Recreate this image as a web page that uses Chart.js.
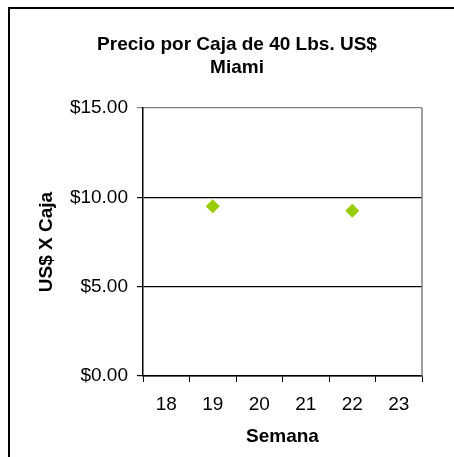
<!DOCTYPE html>
<html>
<head>
<meta charset="utf-8">
<script src="https://cdn.jsdelivr.net/npm/chart.js@4"></script>
<style>
  html, body { margin: 0; padding: 0; background: #fff; }
  #wrap { width: 454px; height: 457px; position: relative; }
</style>
</head>
<body>
<div id="wrap"><canvas id="myChart" width="454" height="457"></canvas></div>
<script>
"use strict";

// semanas y precio por caja (US$)
const semanas = ['18', '19', '20', '21', '22', '23'];
const precioMiami = [null, 9.5, null, null, 9.25, null];
const yTicks = [0, 5, 10, 15];
const tituloLineas = ['Precio por Caja de 40 Lbs. US$', 'Miami'];

const FONT = "'Liberation Sans', Arial, sans-serif";

// titulo y marco exterior
const marcoPlugin = {
	id: 'marco',
	afterDraw(chart) {
		const ctx = chart.ctx;
		const area = chart.chartArea;
		ctx.save();
		// borde derecho del area de trazado
		ctx.strokeStyle = '#808080';
		ctx.lineWidth = 1.5;
		ctx.beginPath();
		ctx.moveTo(area.right, area.top);
		ctx.lineTo(area.right, area.bottom);
		ctx.stroke();
		// marco del grafico (izq y arriba)
		ctx.strokeStyle = '#000';
		ctx.lineWidth = 2;
		ctx.beginPath();
		ctx.moveTo(9, 457);
		ctx.lineTo(9, 8);
		ctx.lineTo(454, 8);
		ctx.stroke();
		// titulo
		ctx.fillStyle = '#000';
		ctx.font = 'bold 19px ' + FONT;
		ctx.textAlign = 'center';
		ctx.textBaseline = 'middle';
		ctx.fillText(tituloLineas[0], 237, 45);
		ctx.fillText(tituloLineas[1], 237, 68);
		ctx.restore();
	}
};

const data = {
	labels: semanas,
	datasets: [{
		label: 'Miami',
		data: precioMiami,
		showLine: false,
		pointStyle: 'rectRot',
		pointRadius: 7,
		pointHoverRadius: 7,
		pointBackgroundColor: '#99CC00',
		pointBorderWidth: 0,
		borderColor: '#99CC00',
		backgroundColor: '#99CC00'
	}]
};

const config = {
	type: 'line',
	data: data,
	options: {
		responsive: false,
		animation: false,
		layout: { padding: { top: 108, right: 32, left: 35, bottom: 9 } },
		plugins: {
			legend: { display: false },
			title: { display: false },
			tooltip: { enabled: false }
		},
		scales: {
			x: {
				type: 'category',
				offset: true,
				afterFit: (scale) => { scale.height = 72; },
				grid: {
					offset: true,
					drawOnChartArea: false,
					drawTicks: true,
					tickLength: 6,
					color: '#000'
				},
				border: { color: '#000', width: 1.5 },
				ticks: {
					color: '#000',
					padding: 11,
					font: { family: FONT, size: 19 }
				},
				title: {
					display: true,
					text: 'Semana',
					color: '#000',
					padding: 0,
					font: { family: FONT, size: 19, weight: 'bold' }
				}
			},
			y: {
				min: 0,
				max: 15,
				afterFit: (scale) => { scale.width = 108; },
				afterBuildTicks: (scale) => { scale.ticks = yTicks.map(v => ({ value: v })); },
				grid: {
					tickLength: 6,
					lineWidth: 1.2,
					color: (c) => (c.tick && c.tick.value === 15 ? '#808080' : '#000')
				},
				border: { color: '#000', width: 1.5 },
				ticks: {
					color: '#000',
					padding: 9,
					font: { family: FONT, size: 19 },
					callback: (v) => '$' + Number(v).toFixed(2)
				},
				title: {
					display: true,
					text: 'US$ X Caja',
					color: '#000',
					padding: 0,
					font: { family: FONT, size: 19, weight: 'bold' }
				}
			}
		}
	},
	plugins: [marcoPlugin]
};

const myChart = new Chart(document.getElementById('myChart'), config);
</script>
</body>
</html>
